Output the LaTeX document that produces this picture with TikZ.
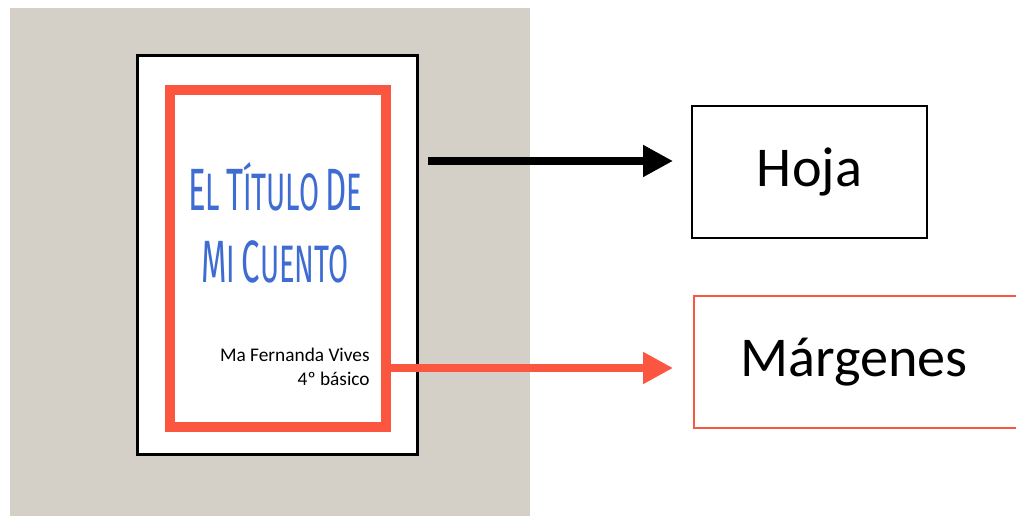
\documentclass[tikz,border=0pt]{standalone}
\usepackage{fontspec}
\setmainfont{Carlito}
\newfontfamily\titlefont{Fira Sans}
\usepackage{tikz}
\usetikzlibrary{arrows.meta}
\definecolor{fondo}{RGB}{213,208,199}
\definecolor{rojo}{RGB}{250,86,64}
\definecolor{azul}{RGB}{62,108,210}
\newcommand{\capgrande}[1]{{\fontsize{34}{34}\selectfont #1}}
\newcommand{\capchica}[1]{{\fontsize{30}{30}\selectfont #1}}

\begin{document}
\begin{tikzpicture}[x=0.02cm,y=-0.02cm,
  box/.style={draw,line width=1.1pt,minimum width=4.7cm,minimum height=2.64cm,font=\fontsize{32}{36}\selectfont},
  flecha/.style={line width=4.5pt,-{Triangle[length=17pt,width=17pt]}},
  titulo/.style={text=azul,inner sep=0pt,font=\titlefont\fontsize{24}{24}\selectfont}]
\useasboundingbox (0,0) rectangle (1016,516);
\clip (0,0) rectangle (1016,516);
\fill[fondo] (10,8) rectangle (530,516);
\node[draw,fill=white,line width=1.7pt,minimum width=5.62cm,minimum height=8cm] (hoja) at (277.5,255) {};
\node[draw=rojo,line width=5.7pt,minimum width=4.32cm,minimum height=6.74cm] (margen) at (278,258.5) {};
\node[titulo] (tituloA) at (275,187) {\scalebox{0.55}[1]{\capgrande{E}\capchica{L} \capgrande{T}\capchica{ÍTULO} \capgrande{D}\capchica{E}}};
\node[titulo] (tituloB) at (275,262) {\scalebox{0.55}[1]{\capgrande{M}\capchica{I} \capgrande{C}\capchica{UENTO}}};
\node[align=right,anchor=east,font=\fontsize{11}{14}\selectfont,inner sep=0pt] (autor) at (370,367) {Ma Fernanda Vives\\4º básico};
\node[box] (hojaBox) at (809.5,172) {Hoja};
\node[box,draw=rojo,minimum width=6.8cm] (margenBox) at (864,362) {\hspace*{-0.2cm}Márgenes\hspace*{0.2cm}};
\coordinate (hojaStart) at (428,161);
\coordinate (margenStart) at (386,368);
\draw[flecha,shorten >=0.36cm] (hojaStart) -- (hojaStart -| hojaBox.west);
\draw[flecha,rojo,shorten >=0.4cm] (margenStart) -- (margenStart -| margenBox.west);
\end{tikzpicture}
\end{document}
